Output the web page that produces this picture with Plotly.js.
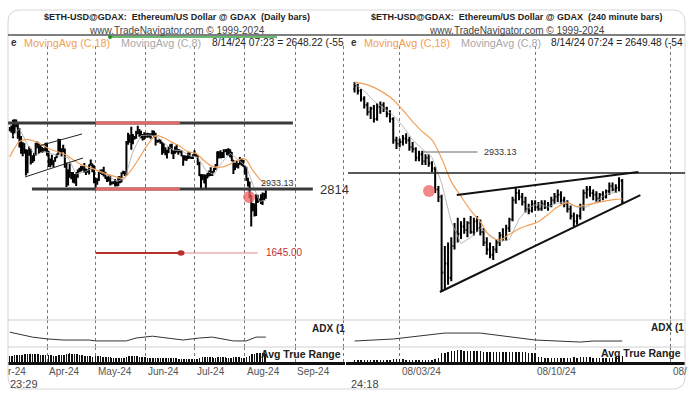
<!DOCTYPE html>
<html><head><meta charset="utf-8">
<script src="https://cdn.plot.ly/plotly-3.0.1.min.js"></script>
<style>html,body{margin:0;padding:0;background:#fff;}#chart{width:700px;height:396px;}</style>
</head><body><div id="chart"></div>
<script>
// ---------- DAILY BARS (left panel), 2024-03-09 .. 2024-08-14 ----------
const dOpen = [
 3885,3905,3880,4065,3980,4005,3880,3740,3520,3645,3520,3160,3515,3490,3335,3330,3455,3590,3585,3500,3560,3510,3505,
 3645,3505,3280,3310,3330,3320,3390,3450,3700,3505,3545,3505,3240,3005,3155,3100,3085,2985,3065,3055,3155,3145,3200,3220,3140,3155,3130,3255,3265,3215,
 3010,2970,2990,3105,3115,3140,3065,3010,2975,3040,2910,2915,2930,2950,2880,3035,2945,3095,3120,3070,3660,3790,3740,3780,3730,3750,3830,3890,3845,3765,3750,
 3765,3815,3780,3770,3810,3865,3810,3680,3680,3705,3665,3500,3560,3470,3480,3570,3620,3510,3480,3560,3520,3520,3490,3420,3350,3400,3370,3450,3380,3380,
 3435,3440,3420,3290,3060,2990,3070,2930,3020,3065,3100,3100,3130,3180,3250,3490,3440,3390,3430,3500,3520,3535,3440,3480,3340,3170,3270,3250,3270,3320,3280,
 3230,3200,2990,2900,2690,2420,2460,2340,2680,2600,2610,2555,2720,2700];
const dHigh = [
 3945,3975,4080,4090,4085,4010,3930,3780,3670,3650,3540,3530,3590,3550,3430,3470,3660,3680,3660,3610,3580,3560,3655,
 3650,3510,3370,3440,3340,3400,3460,3730,3725,3560,3620,3555,3300,3170,3280,3125,3125,3090,3125,3170,3200,3240,3230,3290,3190,3170,3260,3355,3280,3250,
 3020,3010,3130,3170,3170,3220,3130,3040,3060,3050,2950,2955,2995,2960,3040,3040,3120,3145,3140,3690,3840,3810,3950,3820,3780,3880,3970,3910,3880,3820,3850,
 3830,3840,3830,3830,3885,3880,3840,3715,3720,3720,3670,3650,3575,3530,3590,3630,3640,3520,3590,3630,3545,3530,3520,3430,3430,3420,3480,3490,3405,3450,
 3520,3460,3425,3310,3090,3080,3080,3080,3110,3150,3210,3140,3200,3270,3500,3500,3520,3490,3540,3540,3545,3560,3540,3490,3345,3290,3330,3290,3400,3370,3350,
 3240,3220,3020,2950,2700,2560,2550,2720,2710,2640,2720,2750,2740,2790];
const dLow = [
 3870,3840,3740,3830,3940,3730,3570,3460,3410,3460,3060,3100,3420,3260,3290,3320,3420,3560,3460,3480,3470,3490,3500,
 3420,3215,3210,3250,3210,3310,3380,3440,3480,3410,3490,3200,2850,2880,3020,2990,2930,2915,2870,3020,3120,3135,3150,3110,3070,3110,3080,3240,3120,2920,
 2815,2890,2960,3090,3070,3040,3000,2940,2950,2880,2900,2905,2860,2865,2870,2920,2935,3090,3050,3060,3620,3660,3530,3630,3720,3730,3820,3770,3740,3700,3715,
 3755,3750,3760,3730,3780,3750,3610,3660,3670,3640,3440,3465,3430,3370,3470,3550,3450,3360,3460,3480,3440,3480,3410,3240,3340,3325,3360,3370,3370,3360,
 3425,3400,3250,3050,2815,2980,2920,2830,3010,3040,3050,3050,3120,3160,3230,3370,3380,3380,3380,3490,3430,3420,3390,3320,3090,3160,3200,3190,3260,3240,3220,
 3080,2960,2860,2650,2130,2410,2310,2320,2560,2580,2540,2520,2610,2640];
const dClose = [
 3905,3880,4065,3980,4005,3880,3740,3520,3645,3520,3160,3515,3490,3335,3330,3455,3590,3585,3500,3560,3510,3505,3645,
 3505,3280,3310,3330,3320,3390,3450,3700,3505,3545,3505,3240,3005,3155,3100,3085,2985,3065,3055,3155,3145,3200,3220,3140,3155,3130,3255,3265,3215,3010,
 2970,2990,3105,3115,3140,3065,3010,2975,3040,2910,2915,2930,2950,2880,3035,2945,3095,3120,3070,3660,3790,3740,3780,3730,3750,3830,3890,3845,3765,3750,3765,
 3815,3780,3770,3810,3865,3810,3680,3680,3705,3665,3500,3560,3470,3480,3570,3620,3510,3480,3560,3520,3520,3490,3420,3350,3400,3370,3450,3380,3380,3435,
 3440,3420,3290,3060,2990,3070,2930,3020,3065,3100,3100,3130,3180,3250,3490,3440,3390,3430,3500,3520,3535,3440,3480,3340,3170,3270,3250,3270,3320,3280,3230,
 3200,2990,2900,2690,2420,2460,2340,2680,2600,2610,2555,2720,2700,2650];
const dATR = [
 190,192,200,205,205,210,215,220,222,225,240,245,245,248,245,240,238,232,228,222,215,208,205,
 205,210,208,205,200,195,192,205,210,208,205,215,240,245,250,245,240,235,232,228,222,215,208,200,195,190,185,180,175,185,
 190,188,185,180,175,170,165,160,158,155,150,145,142,140,145,142,145,140,138,175,185,185,195,192,185,180,180,175,170,165,160,
 155,150,145,140,138,136,140,136,132,130,135,135,135,135,132,130,132,132,132,130,128,125,125,128,126,124,124,124,120,120,
 120,120,125,135,155,155,158,165,162,160,160,155,152,150,162,160,160,158,158,155,150,150,148,150,160,160,158,155,155,152,150,
 150,162,168,180,225,228,235,255,255,250,250,255,250,248];
const dMA18Dates = ['2024-03-09','2024-03-12','2024-03-15','2024-03-19','2024-03-24','2024-03-29','2024-04-03','2024-04-08','2024-04-13','2024-04-18','2024-04-23','2024-04-28','2024-05-03','2024-05-08','2024-05-13','2024-05-18','2024-05-23','2024-05-28','2024-06-02','2024-06-07','2024-06-12','2024-06-17','2024-06-22','2024-06-27','2024-07-02','2024-07-07','2024-07-12','2024-07-17','2024-07-22','2024-07-27','2024-08-01','2024-08-06','2024-08-10','2024-08-14'];
const dMA18 = [3400,3560,3680,3720,3690,3620,3540,3490,3434,3330,3250,3200,3140,3090,3040,3011,3162,3386,3618,3785,3750,3670,3594,3496,3462,3329,3224,3211,3255,3334,3364,3154,3000,2900];
const dMA8Dates = ['2024-03-10','2024-03-15','2024-03-20','2024-03-25','2024-03-30','2024-04-04','2024-04-09','2024-04-14','2024-04-19','2024-04-24','2024-04-29','2024-05-04','2024-05-09','2024-05-14','2024-05-19','2024-05-24','2024-05-29','2024-06-03','2024-06-08','2024-06-13','2024-06-18','2024-06-23','2024-06-28','2024-07-03','2024-07-08','2024-07-13','2024-07-18','2024-07-23','2024-07-28','2024-08-02','2024-08-06','2024-08-10','2024-08-14'];
const dMA8 = [3755,3918,3623,3424,3504,3456,3411,3388,3086,3121,3198,3116,3055,2951,3003,3498,3791,3798,3776,3634,3524,3515,3423,3396,3153,3074,3301,3467,3344,3226,2896,2588,2607];
const dADXDates = ['2024-03-09','2024-03-23','2024-04-01','2024-04-11','2024-04-27','2024-05-01','2024-05-20','2024-05-26','2024-06-05','2024-06-14','2024-06-24','2024-07-04','2024-07-12','2024-07-25','2024-08-02','2024-08-08','2024-08-14'];
const dADX = [33,22,18,15.5,15.5,13.5,13.5,20,24,20,15.5,20,22,13.5,13.5,22,22];
const monthTicks = ['2024-04-01','2024-05-01','2024-06-01','2024-07-01','2024-08-01','2024-09-01'];
const monthLabels = ['Apr-24','May-24','Jun-24','Jul-24','Aug-24','Sep-24'];

// ---------- 240-MINUTE BARS (right panel), bar end times from 2024-07-31 16:00 ----------
const hOpen = [3290,3310,3280,3235,3200,3160,3180,3120,3190,3200,3180,3150,3120,3000,2980,2990,3010,3000,2960,2950,2900,2920,2880,2900,2870,2840,2720,2680,2250,2300,2220,2400,2480,2470,2510,2490,2530,2480,2540,2500,2480,2420,2380,2350,2380,2420,2460,2450,2500,2550,2660,2700,2680,2650,2610,2600,2640,2620,2610,2640,2620,2630,2660,2680,2690,2660,2640,2610,2570,2540,2570,2620,2700,2720,2700,2690,2670,2690,2680,2710,2740,2720,2730,2770];
const hHigh = [3330,3320,3290,3250,3215,3190,3200,3210,3220,3215,3190,3170,3130,3020,3010,3030,3040,3020,2990,2960,2940,2940,2920,2920,2880,2850,2740,2690,2400,2420,2450,2530,2560,2540,2560,2540,2570,2560,2570,2550,2500,2450,2420,2400,2440,2480,2500,2520,2560,2680,2730,2720,2700,2680,2640,2660,2660,2650,2660,2660,2650,2680,2700,2720,2710,2680,2660,2630,2590,2580,2640,2720,2740,2740,2720,2710,2700,2710,2720,2760,2760,2750,2790,2780];
const hLow = [3270,3260,3220,3180,3140,3120,3100,3110,3150,3160,3130,3100,2980,2950,2960,2970,2980,2940,2930,2880,2880,2860,2860,2850,2820,2700,2650,2140,2150,2180,2200,2380,2420,2440,2470,2450,2470,2460,2480,2460,2400,2350,2330,2320,2360,2400,2430,2430,2480,2540,2640,2660,2630,2590,2580,2590,2600,2600,2600,2610,2600,2620,2640,2650,2640,2620,2590,2550,2510,2520,2550,2600,2670,2680,2660,2650,2650,2660,2670,2690,2710,2700,2710,2640];
const hClose = [3310,3280,3235,3200,3160,3180,3120,3190,3200,3180,3150,3120,3000,2980,2990,3010,3000,2960,2950,2900,2920,2880,2900,2870,2840,2720,2680,2250,2300,2220,2400,2480,2470,2510,2490,2530,2480,2540,2500,2480,2420,2380,2350,2380,2420,2460,2450,2500,2550,2660,2700,2680,2650,2610,2600,2640,2620,2610,2640,2620,2630,2660,2680,2690,2660,2640,2610,2570,2540,2570,2620,2700,2720,2700,2690,2670,2690,2680,2710,2740,2720,2730,2770,2650];
const hATR = [45,45,46,46,47,47,46,46,45,45,45,44,50,50,49,49,48,48,48,47,47,48,47,47,48,55,58,
 90,95,100,105,108,110,110,108,107,106,105,104,103,102,101,100,99,98,97,96,97,98,100,100,98,97,96,95,93,92,
 65,63,62,60,60,58,58,58,58,60,62,64,62,64,66,65,63,62,60,58,58,58,60,62,68,70,72];
const hMAIdx = [0,3,6,9,12,15,18,21,24,27,30,33,36,39,42,45,48,51,54,57,60,63,66,69,72,75,78,81,83];
const hMA18 = [3330,3320,3300,3270,3230,3170,3106,3049,3002,2896,2765,2681,2602,2537,2456,2434,2466,2498,2518,2538,2579,2622,2644,2624,2634,2645,2656,2664,2668];
const hMA8 = [3320,3280,3223,3183,3142,3079,3001,2951,2903,2758,2535,2414,2448,2500,2460,2424,2436,2553,2619,2639,2621,2644,2649,2620,2621,2651,2695,2704,2711];
const hADXIdx = [0,12,20,28,39,48,56,70,74,83];
const hADX = [13.3,17.8,24.4,31,31,22,15.5,11,13.3,13.3];
const weekTicks = ['2024-08-03','2024-08-10','2024-08-17'];
const weekLabels = ['08/03/24','08/10/24','08/'];

// ---------- drawn levels / labels ----------
const lvTop = 4020, lvSupport = 2814, lvTarget = 1645, lvMark = 2933.13;
const titleLeft = '<b>$ETH-USD@GDAX:\u00A0 Ethereum/US Dollar @ GDAX\u00A0 (Daily bars)</b>';
const titleRight = '<b>$ETH-USD@GDAX:\u00A0 Ethereum/US Dollar @ GDAX\u00A0 (240 minute bars)</b>';
const copyright = 'www.TradeNavigator.com © 1999-2024';

// ---------- helpers ----------
const W = 700, H = 396;
const X = p => p / W, Y = p => 1 - p / H;
function dayDates(n){const out=[];for(let i=0;i<n;i++){out.push(new Date(Date.UTC(2024,2,9+i)).toISOString().slice(0,10));}return out;}
function barTimes(n){const out=[];const t0=Date.UTC(2024,6,31,16);for(let i=0;i<n;i++){out.push(new Date(t0+i*4*3600000).toISOString().slice(0,16).replace('T',' '));}return out;}
const dDates = dayDates(dClose.length);
const hTimes = barTimes(hClose.length);
const FONT = 'Liberation Sans, Arial, sans-serif';

const barStyle = {line:{color:'#000', width:2}};
const traces = [
 {type:'ohlc', x:dDates, open:dOpen, high:dHigh, low:dLow, close:dClose, xaxis:'x', yaxis:'y',
  increasing:barStyle, decreasing:barStyle, tickwidth:0.45, hoverinfo:'skip', showlegend:false},
 {type:'scatter', mode:'lines', x:dMA8Dates, y:dMA8, xaxis:'x', yaxis:'y', line:{color:'#aaaaaa', width:0.8}, hoverinfo:'skip'},
 {type:'scatter', mode:'lines', x:dMA18Dates, y:dMA18, xaxis:'x', yaxis:'y', line:{color:'#f0a25a', width:1.2, shape:'spline'}, hoverinfo:'skip'},
 {type:'scatter', mode:'lines', x:dADXDates, y:dADX, xaxis:'x2', yaxis:'y2', line:{color:'#333', width:1}, hoverinfo:'skip'},
 {type:'bar', x:dDates, y:dATR, xaxis:'x3', yaxis:'y3', width:0.6*86400000, marker:{color:'#111', line:{width:0}}, hoverinfo:'skip'},

 {type:'ohlc', x:hTimes, open:hOpen, high:hHigh, low:hLow, close:hClose, xaxis:'x4', yaxis:'y4',
  increasing:barStyle, decreasing:barStyle, tickwidth:0.4, hoverinfo:'skip', showlegend:false},
 {type:'scatter', mode:'lines', x:hMAIdx.map(i=>hTimes[i]), y:hMA8, xaxis:'x4', yaxis:'y4', line:{color:'#aaaaaa', width:0.8}, hoverinfo:'skip'},
 {type:'scatter', mode:'lines', x:hMAIdx.map(i=>hTimes[i]), y:hMA18, xaxis:'x4', yaxis:'y4', line:{color:'#f0a25a', width:1.2, shape:'spline'}, hoverinfo:'skip'},
 {type:'scatter', mode:'lines', x:hADXIdx.map(i=>hTimes[i]), y:hADX, xaxis:'x5', yaxis:'y5', line:{color:'#333', width:1}, hoverinfo:'skip'},
 {type:'bar', x:hTimes, y:hATR, xaxis:'x6', yaxis:'y6', width:0.45*4*3600000, marker:{color:'#111', line:{width:0}}, hoverinfo:'skip'},

 {type:'scatter', mode:'markers', x:['2024-08-03 17:00'], y:[2668], xaxis:'x', yaxis:'y', marker:{size:12, color:'rgba(238,95,95,0.75)'}, hoverinfo:'skip'},
 {type:'scatter', mode:'markers', x:['2024-08-04 12:20'], y:[2712], xaxis:'x4', yaxis:'y4', marker:{size:12, color:'rgba(238,95,95,0.75)'}, hoverinfo:'skip'}
];

const LR = ['2024-03-07 22:35','2024-10-01 20:20'];
const RR = ['2024-07-31 05:24','2024-08-17 17:51'];
const gridX = {type:'date', showgrid:true, gridcolor:'#777', gridwidth:1, griddash:'dot', ticks:'', zeroline:false, showline:false, showticklabels:false, fixedrange:true};
function lx(anchor, extra){return Object.assign({}, gridX, {domain:[X(8),X(345)], range:LR, dtick:'M1', tick0:'2024-01-01', anchor}, extra||{});}
function rx(anchor, extra){return Object.assign({}, gridX, {domain:[X(346),X(685)], range:RR, dtick:7*86400000, tick0:'2024-08-03', anchor}, extra||{});}
const hy = {showgrid:false, zeroline:false, showticklabels:false, ticks:'', showline:false, fixedrange:true};
function ya(anchor, dom, range){return Object.assign({}, hy, {anchor, domain:dom, range});}
const baseLine = {showline:true, linecolor:'#111', linewidth:2.5};

const PRICE = [Y(320), Y(46)], ADXD = [Y(347), Y(320)], ATRD = [Y(362), Y(347)];

function ann(text, px, py, size, color, xanchor, extra){
  return Object.assign({text, x:X(px), y:Y(py), xref:'paper', yref:'paper', showarrow:false, xanchor:xanchor||'left', yanchor:'middle',
    font:{family:FONT, size, color}, borderpad:0}, extra||{});
}
const annotations = [
 ann(titleLeft, 177, 17, 9, '#222', 'center'),
 ann(copyright, 177, 30, 10, '#444', 'center'),
 ann(titleRight, 517, 17, 9, '#222', 'center'),
 ann(copyright, 517, 30, 10, '#444', 'center'),
 ann('<b>e</b>', 10, 43, 10, '#333'),
 ann('MovingAvg (C,18)', 23, 43, 10.8, '#f0a050'),
 ann('MovingAvg (C,8)', 120, 43, 10.8, '#a8a8a8'),
 ann('8/14/24 07:23 = 2648.22 (-55', 211, 43, 10.2, '#222'),
 ann('<b>e</b>', 350, 43, 10, '#333'),
 ann('MovingAvg (C,18)', 363, 43, 10.8, '#f0a050'),
 ann('MovingAvg (C,8)', 460, 43, 10.8, '#a8a8a8'),
 ann('8/14/24 07:24 = 2649.48 (-54', 550, 43, 10.2, '#222'),
 ann(lvMark.toFixed(2), 260, 183, 9, '#333'),
 ann('2814', 319, 189, 13, '#333'),
 ann(lvTarget.toFixed(2), 265, 253, 10, '#c03030'),
 ann(lvMark.toFixed(2), 483, 152, 9, '#333'),
 ann('<b>ADX (1</b>', 311, 328, 10, '#222'),
 ann('<b>ADX (1</b>', 650, 327, 10, '#222'),
 ann('<b>Avg True Range</b>', 260, 354, 10.5, '#222'),
 ann('<b>Avg True Range</b>', 600, 353, 10.5, '#222'),
 ann('r-24', 7, 371, 10, '#555'),
 ann('23:29', 9, 384, 11, '#444'),
 ann('24:18', 350, 384, 11, '#444')
];
monthTicks.forEach((d,i)=>annotations.push({text:monthLabels[i], x:d, xref:'x3', y:Y(371), yref:'paper', showarrow:false, xanchor:'left', yanchor:'middle', xshift:1, borderpad:0, font:{family:FONT, size:10, color:'#555'}}));
weekTicks.forEach((d,i)=>annotations.push({text:weekLabels[i], x:d, xref:'x6', y:Y(371), yref:'paper', showarrow:false, xanchor:'left', yanchor:'middle', xshift:1, borderpad:0, font:{family:FONT, size:10, color:'#555'}}));

function pl(x0,y0,x1,y1,color,width){return {type:'line', xref:'paper', yref:'paper', x0:X(x0), y0:Y(y0), x1:X(x1), y1:Y(y1), line:{color, width}};}
function dl(xa,ya_,x0,y0,x1,y1,color,width){return {type:'line', xref:xa, yref:ya_, x0, y0, x1, y1, line:{color, width}};}
const r = 12, bx0 = 8, by0 = 10, bx1 = 685, by1 = 389;
const borderPath = `M ${X(bx0+r)},${Y(by0)} L ${X(bx1-r)},${Y(by0)} Q ${X(bx1)},${Y(by0)} ${X(bx1)},${Y(by0+r)} L ${X(bx1)},${Y(by1-r)} Q ${X(bx1)},${Y(by1)} ${X(bx1-r)},${Y(by1)} L ${X(bx0+r)},${Y(by1)} Q ${X(bx0)},${Y(by1)} ${X(bx0)},${Y(by1-r)} L ${X(bx0)},${Y(by0+r)} Q ${X(bx0)},${Y(by0)} ${X(bx0+r)},${Y(by0)} Z`;

const shapes = [
 {type:'path', xref:'paper', yref:'paper', path:borderPath, line:{color:'#d6d6d6', width:1}, layer:'above'},
 pl(8,35,685,35,'#555',1.5),
 pl(8,320,685,320,'#d0d0d0',1),
 pl(8,347,685,347,'#d0d0d0',1),
 pl(110,37,277,37,'#3aa040',1.5),
 {type:'circle', xref:'paper', yref:'paper', x0:X(108), x1:X(112), y0:Y(39), y1:Y(35), fillcolor:'#2a8a30', line:{width:0}},
 // left panel drawings
 dl('x','y','2024-03-08',lvTop,'2024-08-30 17:00',lvTop,'#3a3a3a',3),
 dl('x','y','2024-05-01',lvTop,'2024-06-22',lvTop,'#e36a6a',3),
 dl('x','y','2024-03-22 17:00',lvSupport,'2024-09-12',lvSupport,'#3a3a3a',3),
 dl('x','y','2024-05-01',lvSupport,'2024-06-22',lvSupport,'#e36a6a',3),
 dl('x','y','2024-05-01',lvTarget,'2024-06-22 16:00',lvTarget,'#b83030',2),
 dl('x','y','2024-06-22 16:00',lvTarget,'2024-08-09',lvTarget,'#e08a8a',1),
 {type:'circle', xref:'x', yref:'y', x0:'2024-06-20 12:00', x1:'2024-06-24 20:00', y0:lvTarget-50, y1:lvTarget+50, fillcolor:'#b83030', line:{width:0}},
 dl('x','y','2024-03-24 14:00',3581,'2024-04-22 14:00',3819,'#222',1),
 dl('x','y','2024-03-18 10:00',3033,'2024-04-23 05:00',3380,'#222',1),
 // right panel drawings
 dl('x4','y4','2024-07-31 08:00',lvSupport,RR[1],lvSupport,'#222',1.5),
 dl('x4','y4','2024-08-05 22:46',2689,'2024-08-15 08:00',2820,'#111',2),
 dl('x4','y4','2024-08-05 01:50',2139,'2024-08-15 10:28',2689,'#111',2),
 dl('x4','y4','2024-08-04 04:55',lvMark,'2024-08-07 00:37',lvMark,'#999',1.5)
];

const layout = {
 width:W, height:H, margin:{l:0,r:0,t:0,b:0}, paper_bgcolor:'#fff', plot_bgcolor:'rgba(0,0,0,0)',
 showlegend:false, bargap:0, font:{family:FONT},
 xaxis: lx('y', {rangeslider:{visible:false}}),
 xaxis2: lx('y2'),
 xaxis3: lx('y3', baseLine),
 xaxis4: rx('y4', {rangeslider:{visible:false}}),
 xaxis5: rx('y5'),
 xaxis6: rx('y6', baseLine),
 yaxis: ya('x', PRICE, [421,5426]),
 yaxis2: ya('x2', ADXD, [0,60]),
 yaxis3: ya('x3', ATRD, [47,402]),
 yaxis4: ya('x4', PRICE, [1980.1,3534.5]),
 yaxis5: ya('x5', ADXD, [0,60]),
 yaxis6: ya('x6', ATRD, [32,132]),
 shapes, annotations
};
Plotly.newPlot('chart', traces, layout, {staticPlot:true, displayModeBar:false});
</script></body></html>
